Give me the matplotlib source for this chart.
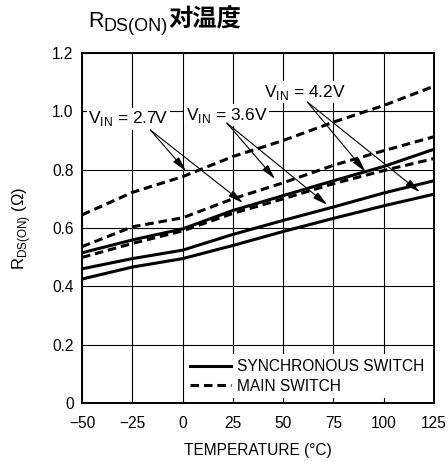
import matplotlib
matplotlib.use('Agg')
import matplotlib.pyplot as plt

plt.rcParams['font.family'] = ['Liberation Sans', 'DejaVu Sans']
plt.rcParams['mathtext.fontset'] = 'custom'
plt.rcParams['mathtext.rm'] = 'Liberation Sans'

# Температура, °C
temp = [-50, -25, 0, 25, 50, 75, 100, 125]

# MAIN SWITCH (пунктир): VIN = 2.7V, 3.6V, 4.2V
main_27 = [0.645, 0.722, 0.776, 0.845, 0.900, 0.963, 1.020, 1.086]
main_36 = [0.536, 0.604, 0.635, 0.700, 0.755, 0.815, 0.865, 0.913]
main_42 = [0.499, 0.547, 0.590, 0.650, 0.700, 0.752, 0.797, 0.838]

# SYNCHRONOUS SWITCH (сплошные)
sync_27 = [0.515, 0.559, 0.597, 0.660, 0.711, 0.762, 0.811, 0.870]
sync_36 = [0.460, 0.495, 0.524, 0.578, 0.626, 0.672, 0.720, 0.762]
sync_42 = [0.425, 0.466, 0.495, 0.540, 0.588, 0.633, 0.676, 0.716]

x_ticks = [-50, -25, 0, 25, 50, 75, 100, 125]
x_labels = ['\u221250', '\u221225', '0', '25', '50', '75', '100', '125']
y_ticks = [0, 0.2, 0.4, 0.6, 0.8, 1.0, 1.2]
y_labels = ['0', '0.2', '0.4', '0.6', '0.8', '1.0', '1.2']

# подписи VIN: текст, позиция, начало стрелок, концы стрелок
vin_labels = ['2.7V', '3.6V', '4.2V']
vin_text_xy = [(-27, 0.974), (22, 0.987), (61, 1.066)]
vin_arrow_from = [(-16, 0.936), (22, 0.960), (62, 1.032)]
vin_arrow_to = [[(1.7, 0.795), (30, 0.686)],
                [(46, 0.768), (72, 0.679)],
                [(91, 0.792), (118, 0.723)]]

fig = plt.figure(figsize=(4.48, 4.62), dpi=100)
ax = fig.add_axes([82 / 448, 1 - 403 / 462, 352 / 448, 350 / 462])

dash = (0, (2.8, 1.6))
lw = 2.2
for s in [sync_27, sync_36, sync_42]:
    ax.plot(temp, s, color='black', lw=lw, zorder=3)
for m in [main_27, main_36, main_42]:
    ax.plot(temp, m, color='black', lw=lw, linestyle=dash, zorder=3)

ax.set_xlim(-50, 125)
ax.set_ylim(0, 1.2)
ax.set_xticks(x_ticks)
ax.set_xticklabels(x_labels)
ax.set_yticks(y_ticks)
ax.set_yticklabels(y_labels)
ax.tick_params(length=0, labelsize=11.2)
ax.tick_params(axis='x', pad=9)
ax.tick_params(axis='y', pad=6)
ax.grid(True, color='black', lw=0.8)
for sp in ax.spines.values():
    sp.set_linewidth(1.4)

ax.set_xlabel('TEMPERATURE (°C)', fontsize=11.2, labelpad=9)
ax.set_ylabel('R$_{\\mathregular{DS(ON)}}$ (\u03a9)', fontsize=12, labelpad=14)

for lab, txy, a0, ends in zip(vin_labels, vin_text_xy, vin_arrow_from, vin_arrow_to):
    ax.text(txy[0], txy[1], 'V$_{\\mathregular{IN}}$ = ' + lab, fontsize=12.5,
            ha='center', va='center', zorder=4,
            bbox=dict(facecolor='white', edgecolor='none', pad=1))
    for e in ends:
        ax.annotate('', xy=e, xytext=a0, zorder=4,
                    arrowprops=dict(arrowstyle='-|>,head_length=0.9,head_width=0.22',
                                    lw=0.8, color='black', shrinkA=0, shrinkB=0))

h1, = ax.plot([], [], color='black', lw=lw)
h2, = ax.plot([], [], color='black', lw=lw, linestyle=dash)
leg = ax.legend([h1, h2], ['SYNCHRONOUS SWITCH', 'MAIN SWITCH'], loc='lower right',
                bbox_to_anchor=(1.0, 0.0), fontsize=11.2, frameon=True, fancybox=False,
                framealpha=1, edgecolor='none', facecolor='white', handlelength=2.65,
                handletextpad=0.4, labelspacing=0.3, borderpad=0.3, borderaxespad=0.3)
leg.set_zorder(5)

# заголовок: R + подстрочный DS(ON) + 对温度, подряд
r = fig.canvas.get_renderer()
x0 = 88
t1 = fig.text(x0 / 448, 1 - 27 / 462, 'R', fontsize=15.5, va='baseline', ha='left')
x0 = t1.get_window_extent(r).x1
t2 = fig.text(x0 / 448, 1 - 31 / 462, 'DS(ON)', fontsize=13, va='baseline', ha='left')
x0 = t2.get_window_extent(r).x1
fig.text(x0 / 448, 1 - 26 / 462, '对温度', fontsize=17.5, fontweight='bold', va='baseline',
         ha='left', family=['Noto Sans CJK SC', 'DejaVu Sans'])

fig.savefig('out.png', dpi=100)
